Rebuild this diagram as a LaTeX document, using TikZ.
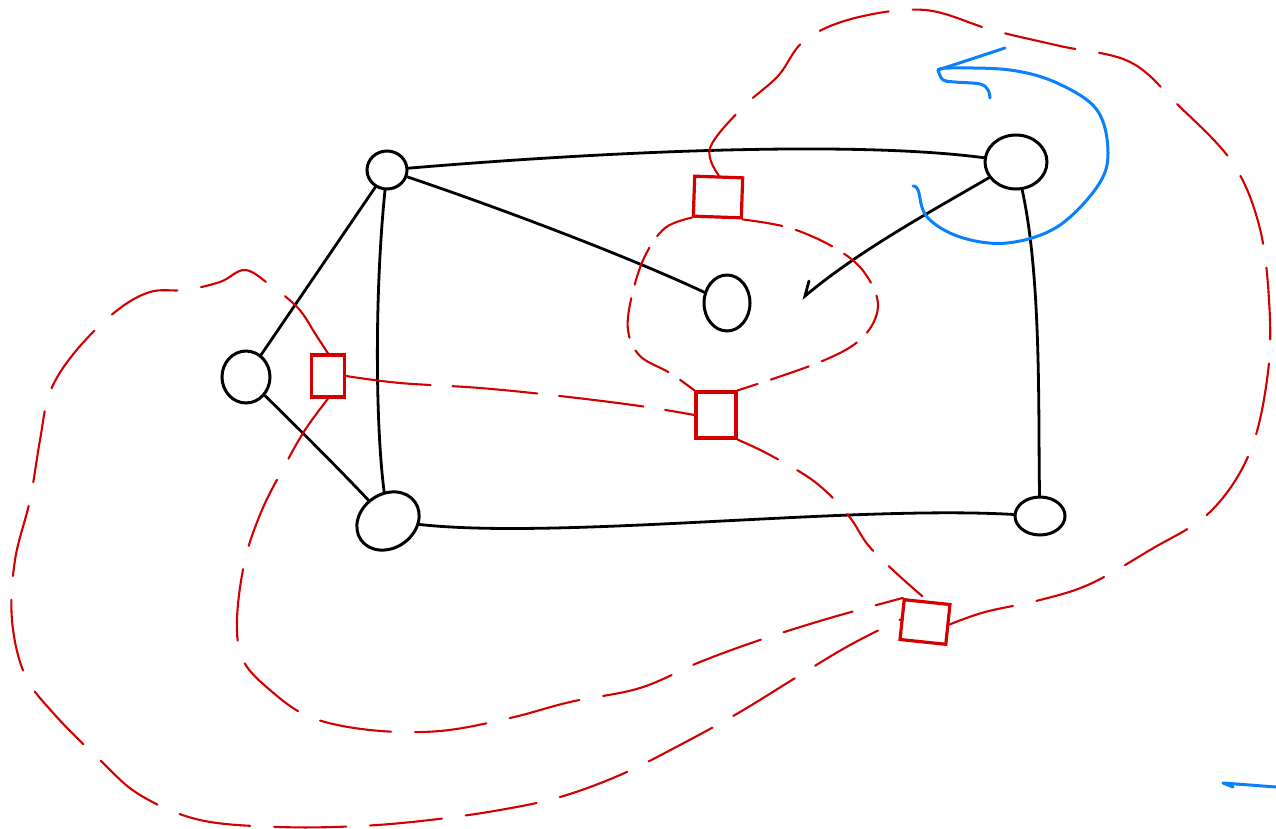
\documentclass[tikz,border=0pt]{standalone}
\usetikzlibrary{shapes.geometric}

\definecolor{penred}{RGB}{212,0,0}
\definecolor{penblue}{RGB}{10,128,255}

\tikzset{
    vertex/.style={draw=black, ellipse, line width=3pt, inner sep=0pt},
    face/.style={draw=penred, rectangle, line width=3.2pt, inner sep=0pt},
    edge/.style={black, line width=2.8pt, line cap=round},
    dualedge/.style={penred, line width=2.1pt, line cap=round, dash pattern=on 72pt off 24pt},
    loopedge/.style={penblue, line width=3pt, line cap=round, line join=round}
}

\begin{document}
\begin{tikzpicture}[x=1pt, y=-1pt]
    \useasboundingbox (0,0) rectangle (1276,829);

    % vertices of the graph
    \node[vertex, minimum width=40pt, minimum height=38pt] (a) at (387,170) {};
    \node[vertex, minimum width=48pt, minimum height=52pt] (b) at (246,377) {};
    \node[vertex, minimum width=66pt, minimum height=54pt, rotate=35] (c) at (388,521) {};
    \node[vertex, minimum width=46pt, minimum height=56pt] (d) at (727,303) {};
    \node[vertex, minimum width=62pt, minimum height=54pt] (e) at (1016,162) {};
    \node[vertex, minimum width=50pt, minimum height=38pt] (f) at (1040,516) {};
    \coordinate (tip) at (805,296);

    % faces (dual vertices)
    \node[face, minimum width=48pt, minimum height=40pt, rotate=-2] (s1) at (718,197) {};
    \node[face, minimum width=33pt, minimum height=42pt] (s2) at (328,376) {};
    \node[face, minimum width=40pt, minimum height=46pt] (s3) at (716,415) {};
    \node[face, minimum width=46pt, minimum height=40pt, rotate=-6] (s4) at (925,622) {};

    % edges
    \draw[edge] (a) .. controls (600,152) and (850,140) .. (e);
    \draw[edge] (a) .. controls (520,215) and (640,262) .. (d);
    \draw[edge] (a) -- (b);
    \draw[edge] (a) .. controls (374,300) and (376,430) .. (c);
    \draw[edge] (b) .. controls (300,430) and (340,470) .. (c);
    \draw[edge] (c) .. controls (560,540) and (850,505) .. (f);
    \draw[edge] (e) .. controls (1042,280) and (1038,420) .. (f);
    \draw[edge] (e) .. controls (930,212) and (860,250) .. (tip) -- ++(4,-15);

    % dual edges
    \draw[dualedge] plot[smooth, tension=0.6] coordinates {(s1.north) (710,148) (742,108) (778,76) (805,40)
        (855,18) (925,10) (992,30) (1060,46) (1130,62) (1178,105) (1232,162) (1259,225) (1269,300)
        (1268,372) (1250,452) (1210,512) (1150,550) (1090,584) (1040,600) (985,612) (s4.east)};
    \draw[dualedge, dash pattern=on 40pt off 14pt] plot[smooth, tension=0.6] coordinates {(s1.south west)
        (665,228) (645,256) (632,295) (628,330) (640,356) (670,373) (s3.north west)};
    \draw[dualedge, dash pattern=on 40pt off 14pt] plot[smooth, tension=0.6] coordinates {(s1.south east)
        (790,228) (835,248) (864,272) (878,306) (862,338) (820,362) (s3.north east)};
    \draw[dualedge, dash pattern=on 85pt off 22pt] plot[smooth, tension=0.6] coordinates {(s2.east)
        (400,383) (480,388) (560,396) (640,406) (s3.west)};
    \draw[dualedge, dash pattern=on 45pt off 22pt] plot[smooth, tension=0.6] coordinates {(s3.south east)
        (770,455) (815,482) (848,515) (868,545) (895,572) (s4.north)};
    \draw[dualedge] plot[smooth, tension=0.6] coordinates {(s2.south) (305,430) (285,465) (262,510)
        (245,560) (237,620) (243,660) (270,690) (310,717) (370,730) (440,731) (510,718) (570,702)
        (640,688) (700,662) (760,640) (830,618) (s4.north west)};
    \draw[dualedge] plot[smooth, tension=0.6] coordinates {(s2.north) (316,335) (298,308) (270,285)
        (245,270) (220,282) (185,290) (150,292) (115,312) (75,352) (50,392) (40,440) (30,500)
        (15,560) (12,620) (25,675) (55,715) (100,760) (140,795) (200,820) (280,827) (360,826)
        (430,820) (500,810) (560,797) (620,775) (680,745) (740,712) (800,675) (850,645) (s4.west)};

    % self loop at e
    \draw[loopedge] plot[smooth, tension=0.6] coordinates {(913,186) (918,190) (927,217) (960,237)
        (1007,243) (1057,227) (1097,187) (1108,153) (1097,110) (1057,83) (1010,70) (950,68) (938,70)};
    \draw[loopedge] (938,70) -- (1005,48);
    \draw[loopedge] plot[smooth, tension=0.6] coordinates {(938,70) (943,80) (955,82) (980,84) (988,90) (990,98)};

    \coordinate (free1) at (1276,787);
    \coordinate (free2) at (1223,783);
    \draw[loopedge] (free1) -- (free2) -- ++(10,4);
\end{tikzpicture}
\end{document}
